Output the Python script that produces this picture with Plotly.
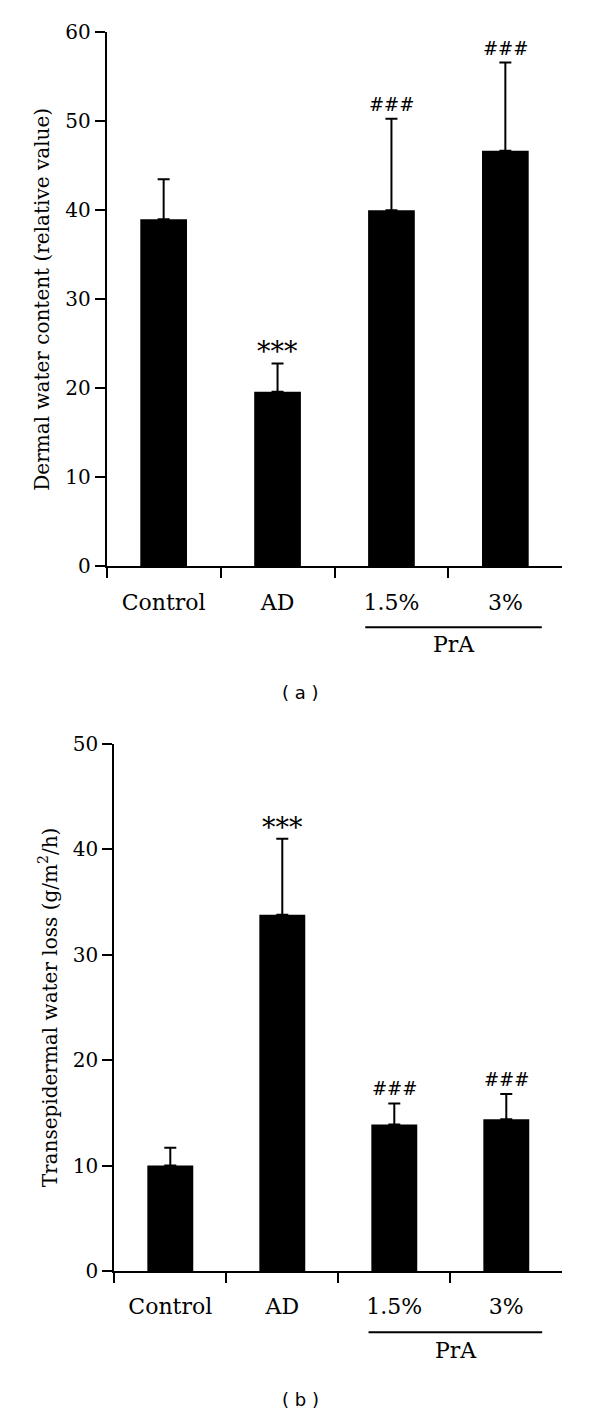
import plotly.graph_objects as go

# ---------------- data ----------------
categories = ["Control", "AD", "1.5%", "3%"]

water_content = [39.0, 19.6, 40.0, 46.7]
water_content_err = [4.5, 3.2, 10.3, 9.9]
water_content_marks = ["", "***", "###", "###"]
water_content_ticks = [0, 10, 20, 30, 40, 50, 60]

tewl = [10.0, 33.8, 13.9, 14.4]
tewl_err = [1.7, 7.2, 2.0, 2.4]
tewl_marks = ["", "***", "###", "###"]
tewl_ticks = [0, 10, 20, 30, 40, 50]

group_label = "PrA"
panel_labels = ["( a )", "( b )"]

# ---------------- layout helpers ----------------
W, H = 600, 1414
SERIF = "DejaVu Serif"


def px_x(p):
    return p / W


def px_y(p):
    return 1 - p / H


fig = go.Figure()

panels = [
    dict(vals=water_content, err=water_content_err, marks=water_content_marks,
         ticks=water_content_ticks, xa="x", ya="y",
         xdom=(106.7, 562.3), ydom=(566.3, 32.3), rng=(0, 60),
         title="Dermal water content (relative value)",
         line_y=627.3, line_x=(1.77, 3.32), pra_y=645, lab_y=692),
    dict(vals=tewl, err=tewl_err, marks=tewl_marks,
         ticks=tewl_ticks, xa="x2", ya="y2",
         xdom=(114.3, 562.3), ydom=(1271, 744), rng=(0, 50),
         title="Transepidermal water loss (g/m<sup>2</sup>/h)",
         line_y=1332.3, line_x=(1.77, 3.32), pra_y=1350, lab_y=1399),
]

annotations = []
shapes = []

for i, p in enumerate(panels):
    fig.add_trace(go.Bar(
        x=categories, y=p["vals"], xaxis=p["xa"], yaxis=p["ya"],
        marker=dict(color="black", line=dict(width=0)),
        error_y=dict(type="data", array=p["err"], arrayminus=[0] * len(p["err"]),
                     symmetric=False, color="black", thickness=2, width=6),
        showlegend=False, hoverinfo="skip",
    ))
    xkey = "xaxis" if i == 0 else "xaxis2"
    ykey = "yaxis" if i == 0 else "yaxis2"
    fig.layout[xkey] = dict(
        domain=[px_x(p["xdom"][0]), px_x(p["xdom"][1])], anchor=p["ya"],
        type="category", range=[-0.5, 3.5], tickson="boundaries",
        ticks="outside", ticklen=10, tickwidth=2, tickcolor="black",
        showline=True, linewidth=2, linecolor="black", showgrid=False,
        tickfont=dict(family=SERIF, size=22, color="black"),
        ticklabelstandoff=15, fixedrange=True, automargin=False,
    )
    fig.layout[ykey] = dict(
        domain=[px_y(p["ydom"][0]), px_y(p["ydom"][1])], anchor=p["xa"],
        range=list(p["rng"]), tickvals=p["ticks"],
        ticks="outside", ticklen=10, tickwidth=2, tickcolor="black",
        showline=True, linewidth=2, linecolor="black", showgrid=False,
        zeroline=False, automargin=False,
        tickfont=dict(family=SERIF, size=20, color="black"),
        title=dict(text=p["title"], font=dict(family=SERIF, size=20, color="black"),
                   standoff=10),
        fixedrange=True,
    )
    # significance marks
    for c, v, e, m in zip(categories, p["vals"], p["err"], p["marks"]):
        if not m:
            continue
        star = m.startswith("*")
        annotations.append(dict(
            x=c, y=v + e, xref=p["xa"], yref=p["ya"], text=m, showarrow=False,
            yanchor="bottom", yshift=(-6 if star else 2),
            font=dict(family=SERIF, size=(27 if star else 18), color="black"),
        ))
    # PrA group line and label
    shapes.append(dict(type="line", xref=p["xa"], yref="paper",
                       x0=p["line_x"][0], x1=p["line_x"][1],
                       y0=px_y(p["line_y"]), y1=px_y(p["line_y"]),
                       line=dict(color="black", width=2)))
    annotations.append(dict(x=2.55, y=px_y(p["pra_y"]), xref=p["xa"], yref="paper",
                            text=group_label, showarrow=False, yanchor="middle",
                            font=dict(family=SERIF, size=22, color="black")))
    annotations.append(dict(x=0.5, y=px_y(p["lab_y"]), xref="paper", yref="paper",
                            text=panel_labels[i], showarrow=False, yanchor="middle",
                            font=dict(family="DejaVu Sans", size=18, color="black")))

fig.update_layout(
    template="none",
    width=W, height=H, autosize=False,
    margin=dict(l=0, r=0, t=0, b=0, pad=0, autoexpand=False),
    paper_bgcolor="white", plot_bgcolor="white",
    bargap=0.59, annotations=annotations, shapes=shapes,
    hovermode=False,
)

fig.write_html(
    "out.html",
    config={"displayModeBar": False, "staticPlot": True},
    post_script="document.body.style.margin='0';document.body.style.overflow='hidden';",
)
